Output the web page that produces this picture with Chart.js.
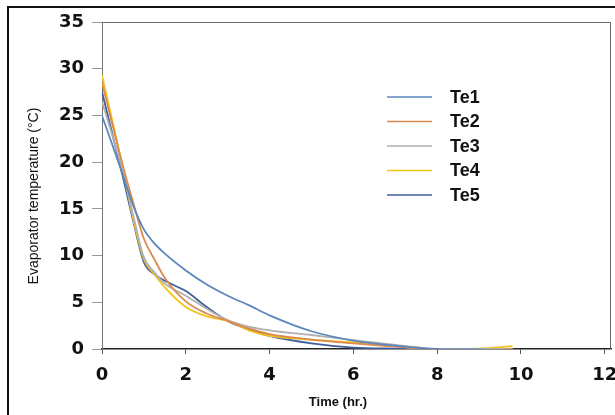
<!DOCTYPE html>
<html>
<head>
<meta charset="utf-8">
<script src="https://cdn.jsdelivr.net/npm/chart.js@4/dist/chart.umd.min.js"></script>
<style>
  html, body { margin: 0; padding: 0; background: #fff; }
  #wrap { width: 615px; height: 415px; position: relative; }
</style>
</head>
<body>
<div id="wrap"><canvas id="c" width="615" height="415"></canvas></div>
<script>
// ---- data ----
const timeHr = [0, 0.5, 0.75, 1, 1.25, 1.5, 2, 2.5, 3, 3.5, 4, 5, 6, 7, 8, 9, 9.8];
const te1 = [25.0, 18.6, 15.3, 12.8, 11.3, 10.2, 8.4, 6.9, 5.7, 4.7, 3.6, 1.9, 0.9, 0.35, 0.0, -0.05, -0.2];
const te2 = [28.5, 19.6, 15.6, 11.8, 9.6, 7.6, 5.1, 3.8, 3.0, 2.2, 1.6, 1.0, 0.6, 0.25, -0.1, -0.15, 0.0];
const te3 = [26.5, 18.9, 14.2, 9.8, 8.2, 7.0, 5.7, 4.3, 3.1, 2.4, 2.0, 1.5, 0.95, 0.45, 0.0, 0.0, 0.0];
const te4 = [29.3, 19.3, 13.8, 9.6, 8.0, 6.6, 4.5, 3.5, 3.0, 2.0, 1.4, 1.0, 0.7, 0.3, -0.05, 0.05, 0.3];
const te5 = [27.5, 18.4, 13.6, 9.3, 8.0, 7.3, 6.2, 4.5, 3.0, 2.1, 1.4, 0.6, 0.15, 0.05, 0.0, -0.05, -0.2];
const seriesNames = ['Te1', 'Te2', 'Te3', 'Te4', 'Te5'];
const seriesValues = [te1, te2, te3, te4, te5];
const xTickValues = [0, 2, 4, 6, 8, 10, 12];
const yTickValues = [0, 5, 10, 15, 20, 25, 30, 35];
const xTitle = 'Time (hr.)';
const yTitle = 'Evaporator temperature (°C)';

const colors = ['#5B87BC', '#DD8A4E', '#B0B0B0', '#F2C318', '#3F5E9E'];

const datasets = seriesNames.map((name, i) => ({
  label: name,
  data: timeHr.map((t, k) => ({ x: t, y: seriesValues[i][k] })),
  borderColor: colors[i],
  backgroundColor: colors[i],
  borderWidth: 1.8,
  pointRadius: 0,
  cubicInterpolationMode: 'monotone',
  fill: false
}));

const decor = {
  id: 'decor',
  afterDraw(chart) {
    const ctx = chart.ctx;
    const a = chart.chartArea;
    ctx.save();
    // plot box top/right
    ctx.strokeStyle = '#666';
    ctx.lineWidth = 1;
    ctx.beginPath();
    ctx.moveTo(a.left, a.top + 0.5);
    ctx.lineTo(a.right - 0.5, a.top + 0.5);
    ctx.lineTo(a.right - 0.5, a.bottom);
    ctx.stroke();
    // outer frame (top and left)
    ctx.strokeStyle = '#111';
    ctx.lineWidth = 2;
    ctx.beginPath();
    ctx.moveTo(8, 415);
    ctx.lineTo(8, 7);
    ctx.lineTo(615, 7);
    ctx.stroke();
    // axis titles
    ctx.fillStyle = '#111';
    ctx.textAlign = 'center';
    ctx.textBaseline = 'middle';
    ctx.font = 'bold 13px "Liberation Sans", Arial, sans-serif';
    ctx.fillText(xTitle, 338, 402);
    ctx.save();
    ctx.translate(34, 196);
    ctx.rotate(-Math.PI / 2);
    ctx.font = '14px "Liberation Sans", Arial, sans-serif';
    ctx.fillText(yTitle, 0, 0);
    ctx.restore();
    // legend
    const lx0 = 387, lx1 = 432, tx = 450, y0 = 97, dy = 24.5;
    ctx.textAlign = 'left';
    ctx.font = 'bold 18px "Liberation Sans", Arial, sans-serif';
    chart.data.datasets.forEach((ds, i) => {
      const y = y0 + i * dy;
      ctx.strokeStyle = ds.borderColor;
      ctx.lineWidth = 1.3;
      ctx.beginPath();
      ctx.moveTo(lx0, y);
      ctx.lineTo(lx1, y);
      ctx.stroke();
      ctx.fillStyle = '#111';
      ctx.fillText(ds.label, tx, y + 1);
    });
    ctx.restore();
  }
};

new Chart(document.getElementById('c'), {
  type: 'line',
  data: { datasets },
  options: {
    responsive: false,
    animation: false,
    layout: { padding: { left: 0, top: 22, right: 4, bottom: 0 } },
    plugins: { legend: { display: false }, tooltip: { enabled: false } },
    scales: {
      x: {
        type: 'linear',
        min: 0,
        max: 12.15,
        afterBuildTicks: s => { s.ticks = xTickValues.map(v => ({ value: v })); },
        afterFit: s => { s.height = 66; s.paddingLeft = 0; s.paddingRight = 0; },
        grid: { drawOnChartArea: false, drawTicks: true, tickLength: 5, color: '#555' },
        border: { display: true, color: '#222', width: 1.5 },
        ticks: {
          autoSkip: false,
          maxRotation: 0,
          padding: 11,
          color: '#111',
          font: { family: '"DejaVu Sans", Verdana, sans-serif', size: 18, weight: 'bold' }
        }
      },
      y: {
        type: 'linear',
        min: 0,
        max: 35,
        afterBuildTicks: s => { s.ticks = yTickValues.map(v => ({ value: v })); },
        afterFit: s => { s.width = 102; s.paddingTop = 0; s.paddingBottom = 0; },
        grid: { drawOnChartArea: false, drawTicks: true, tickLength: 10, color: '#999' },
        border: { display: true, color: '#777', width: 1 },
        ticks: {
          padding: 8,
          color: '#111',
          font: { family: '"DejaVu Sans", Verdana, sans-serif', size: 18, weight: 'bold' }
        }
      }
    }
  },
  plugins: [decor]
});
</script>
</body>
</html>
